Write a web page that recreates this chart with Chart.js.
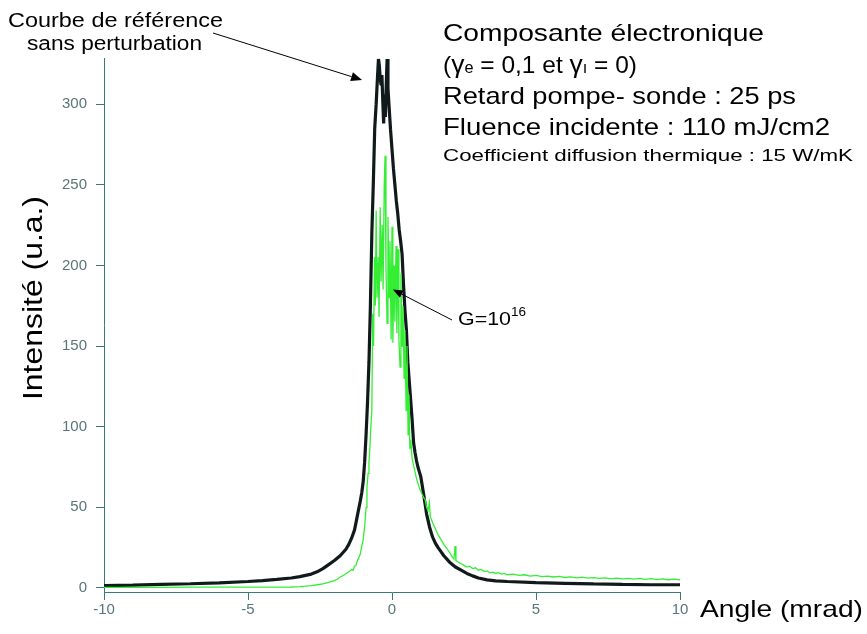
<!DOCTYPE html>
<html>
<head>
<meta charset="utf-8">
<script src="https://cdn.jsdelivr.net/npm/chart.js@4/dist/chart.umd.min.js"></script>
<style>
  html, body { margin: 0; padding: 0; background: #ffffff; }
  #wrap { width: 867px; height: 634px; }
</style>
</head>
<body>
<div id="wrap"><canvas id="c" width="867" height="634"></canvas></div>
<script>
// Reference curve (no perturbation): angle in mrad, intensity in a.u.
const refAngle = [-10, -9, -8, -7, -6, -5, -4.5, -4, -3.5, -3.2, -3, -2.8, -2.6, -2.4, -2.2, -2, -1.8, -1.6, -1.5, -1.4,
  -1.3, -1.2, -1.1, -1.05, -1, -0.95, -0.9, -0.85, -0.8, -0.75, -0.7, -0.65, -0.6, -0.55, -0.5, -0.47, -0.44, -0.41,
  -0.38, -0.35, -0.32, -0.29, -0.26, -0.23, -0.2, -0.17, -0.14, -0.1, -0.05, 0, 0.05, 0.1, 0.15, 0.2, 0.25, 0.3, 0.35,
  0.4, 0.45, 0.5, 0.55, 0.6, 0.65, 0.7, 0.75, 0.8, 0.85, 0.9, 0.95, 1, 1.1, 1.2, 1.3, 1.4, 1.5, 1.6, 1.7, 1.8, 2,
  2.2, 2.4, 2.6, 2.8, 3, 3.3, 3.6, 4, 5, 6, 7, 8, 9, 10];
const refIntensity = [1.5, 1.8, 2.2, 2.6, 3.2, 4, 4.6, 5.3, 6.2, 7, 7.8, 8.6, 10, 12, 14.5, 17, 20, 24, 27, 31,
  36, 45, 54, 59, 66, 78, 95, 115, 140, 175, 220, 250, 285, 300, 318, 328, 324, 316,
  312, 318, 302, 288, 306, 292, 312, 328, 310, 298, 284, 272, 260, 250, 240, 232, 222, 215, 207,
  188, 172, 160, 140, 128, 116, 104, 90, 84, 79, 75, 72, 69, 58, 46, 38, 32, 28, 25, 22.5, 20, 16,
  13, 11, 9, 7.5, 6.2, 5, 4.4, 4, 3.3, 2.9, 2.5, 2.2, 2, 2];

// Perturbed curve, G = 1e16
const pertAngle = [-10, -9, -8, -7, -6, -5, -4, -3.5, -3.2, -3, -2.8, -2.6, -2.4, -2.2, -2, -1.9, -1.8, -1.7, -1.6, -1.5,
  -1.4, -1.35, -1.3, -1.25, -1.2, -1.15, -1.1, -1.05, -1, -0.95, -0.9, -0.87, -0.83, -0.8, -0.77, -0.74, -0.7,
  -0.67, -0.64, -0.61, -0.58, -0.55, -0.52, -0.48, -0.45, -0.41, -0.38, -0.34, -0.31, -0.27, -0.24, -0.21, -0.17,
  -0.14, -0.1, -0.07, -0.03, 0, 0.03, 0.07, 0.1, 0.14, 0.17, 0.21, 0.24, 0.28, 0.31, 0.35, 0.38, 0.42, 0.45, 0.49,
  0.52, 0.56, 0.59, 0.62, 0.65, 0.7, 0.75, 0.8, 0.85, 0.9, 0.97, 1.05, 1.1, 1.15, 1.2, 1.25, 1.3, 1.33, 1.38, 1.42,
  1.5, 1.6, 1.7, 1.8, 1.9, 2, 2.1, 2.15, 2.19, 2.22, 2.3, 2.4, 2.5, 2.6, 2.7, 2.8, 2.9, 3, 3.1, 3.2, 3.3, 3.4, 3.5,
  3.6, 3.7, 3.8, 3.9, 4, 4.2, 4.4, 4.6, 4.8, 5, 5.2, 5.4, 5.6, 5.8, 6, 6.2, 6.4, 6.6, 6.8, 7, 7.2, 7.4, 7.6, 7.8,
  8, 8.2, 8.4, 8.6, 8.8, 9, 9.2, 9.4, 9.6, 9.8, 10];
const pertIntensity = [0.4, 0.4, 0.4, 0.5, 0.5, 0.5, 0.5, 0.6, 0.8, 1.1, 1.5, 2, 2.6, 3.4, 4.6, 5.4, 6.8, 7.6, 8.8, 10,
  11.5, 11, 13.5, 14, 17, 19, 21, 26, 30, 38, 50, 62, 71, 78, 86, 98, 110,
  170, 150, 205, 175, 234, 180, 205, 168, 236, 190, 225, 185, 250, 268, 200, 164,
  230, 180, 215, 154, 224, 152, 200, 165, 212, 158, 210, 154, 137, 195, 150, 175, 130, 160, 110,
  150, 95, 120, 86, 92, 80, 76, 72, 68, 65, 61, 58, 56, 55, 50, 48, 53, 44, 42, 40,
  37, 33, 30, 27, 24.5, 22, 19, 18, 26, 17, 16, 15, 14, 13, 13.5, 12, 12.5, 11, 11.5, 10.2, 10.6, 9.4, 9.8,
  9, 9.5, 8.6, 9, 8.2, 8.6, 7.8, 8.2, 7.4, 7.8, 7, 7.4, 6.8, 7.2, 6.5, 6.9, 6.3, 6.7, 6.1, 6.4, 5.9, 6.3, 5.7, 6.1,
  5.6, 6, 5.5, 5.9, 5.3, 5.8, 5.2, 5.6, 5.1, 5.5, 5];

const angleTicks = [-10, -5, 0, 5, 10];
const intensityTicks = [0, 50, 100, 150, 200, 250, 300];

const zip = (xs, ys) => xs.map((x, i) => ({ x: x, y: ys[i] }));

const TEXT_FONT = '"Liberation Sans", Arial, Helvetica, sans-serif';
const AXIS_COLOR = '#3b7878';
const TICK_TEXT = '#5b7676';

// Draws a row of text runs, stretched horizontally to a given width.
function textRow(ctx, parts, x, y, width) {
  let natural = 0;
  for (const p of parts) {
    ctx.font = p.size + 'px ' + TEXT_FONT;
    p.w = ctx.measureText(p.t).width;
    natural += p.w;
  }
  const s = width ? width / natural : 1;
  ctx.save();
  ctx.translate(x, y);
  ctx.scale(s, 1);
  let cx = 0;
  for (const p of parts) {
    ctx.font = p.size + 'px ' + TEXT_FONT;
    ctx.fillText(p.t, cx, p.dy || 0);
    cx += p.w;
  }
  ctx.restore();
}

function arrow(ctx, x1, y1, x2, y2, len, half) {
  const a = Math.atan2(y2 - y1, x2 - x1);
  const bx = x2 - len * Math.cos(a), by = y2 - len * Math.sin(a);
  ctx.beginPath();
  ctx.moveTo(x1, y1);
  ctx.lineTo(bx, by);
  ctx.stroke();
  ctx.beginPath();
  ctx.moveTo(x2, y2);
  ctx.lineTo(bx + half * Math.sin(a), by - half * Math.cos(a));
  ctx.lineTo(bx - half * Math.sin(a), by + half * Math.cos(a));
  ctx.closePath();
  ctx.fill();
}

const annotations = {
  id: 'annotations',
  afterDraw(chart) {
    const ctx = chart.ctx;
    const xs = chart.scales.x, ys = chart.scales.y;
    ctx.save();
    ctx.fillStyle = '#000';
    ctx.strokeStyle = '#000';
    ctx.lineWidth = 1;
    ctx.textBaseline = 'alphabetic';
    ctx.textAlign = 'left';

    // Reference-curve label and its arrow
    textRow(ctx, [{ t: 'Courbe de référence', size: 20 }], 8, 27, 215);
    textRow(ctx, [{ t: 'sans perturbation', size: 20 }], 27, 50, 175);
    arrow(ctx, 213, 33, xs.getPixelForValue(-1.04), ys.getPixelForValue(315), 11, 4.5);

    // Simulation parameters
    textRow(ctx, [{ t: 'Composante électronique', size: 24 }], 443, 41, 321);
    textRow(ctx, [
      { t: '(', size: 24 }, { t: 'γ', size: 26 }, { t: 'e', size: 16 }, { t: ' = 0,1 et ', size: 24 },
      { t: 'γ', size: 26 }, { t: 'ı', size: 16 }, { t: ' = 0)', size: 24 }
    ], 443, 73, 194);
    textRow(ctx, [{ t: 'Retard pompe- sonde : 25 ps', size: 24 }], 443, 104, 353);
    textRow(ctx, [{ t: 'Fluence incidente : 110 mJ/cm2', size: 24 }], 443, 135, 387);
    textRow(ctx, [{ t: 'Coefficient diffusion thermique : 15 W/mK', size: 17 }], 443, 161, 410);

    // Perturbed-curve label and its arrow
    arrow(ctx, 452, 320, xs.getPixelForValue(0.03), ys.getPixelForValue(185), 10, 4);
    textRow(ctx, [{ t: 'G=10', size: 19 }, { t: '16', size: 12, dy: -9 }], 458, 325, 68);

    // Axis titles
    textRow(ctx, [{ t: 'Angle (mrad)', size: 24 }], 700, 617, 163);
    ctx.save();
    ctx.translate(42, 298);
    ctx.rotate(-Math.PI / 2);
    textRow(ctx, [{ t: 'Intensité (u.a.)', size: 27 }], -102, 0, 204);
    ctx.restore();

    ctx.restore();
  }
};

new Chart(document.getElementById('c'), {
  type: 'line',
  data: {
    datasets: [
      {
        label: 'G=10^16',
        data: zip(pertAngle, pertIntensity),
        borderColor: '#33ee33',
        borderWidth: 1.3,
        pointRadius: 0,
        tension: 0,
        order: 0
      },
      {
        label: 'Courbe de référence',
        data: zip(refAngle, refIntensity),
        borderColor: '#101a1a',
        borderWidth: 3.2,
        pointRadius: 0,
        tension: 0,
        borderJoinStyle: 'bevel',
        order: 1
      }
    ]
  },
  options: {
    responsive: false,
    devicePixelRatio: 1,
    animation: false,
    events: [],
    layout: { padding: { top: 58, right: 187, bottom: 0, left: 0 } },
    plugins: { legend: { display: false }, tooltip: { enabled: false } },
    scales: {
      x: {
        type: 'linear',
        min: -10,
        max: 10,
        afterBuildTicks: (axis) => { axis.ticks = angleTicks.map(v => ({ value: v })); },
        afterFit: (axis) => { axis.height = 42; },
        border: { display: true, color: AXIS_COLOR, width: 1 },
        grid: { drawOnChartArea: false, drawTicks: true, tickLength: 8, color: AXIS_COLOR },
        ticks: {
          color: TICK_TEXT,
          padding: 1,
          maxRotation: 0,
          font: { family: '"Liberation Sans Narrow", "Liberation Sans", Arial, sans-serif', size: 15 },
          callback: (v) => String(v)
        }
      },
      y: {
        type: 'linear',
        min: -2.5,
        max: 328.6,
        afterBuildTicks: (axis) => { axis.ticks = intensityTicks.map(v => ({ value: v })); },
        afterFit: (axis) => { axis.width = 104; },
        border: { display: true, color: AXIS_COLOR, width: 1 },
        grid: { drawOnChartArea: false, drawTicks: true, tickLength: 8, color: AXIS_COLOR },
        ticks: {
          color: TICK_TEXT,
          padding: 9,
          font: { family: '"Liberation Sans Narrow", "Liberation Sans", Arial, sans-serif', size: 15 },
          callback: (v) => String(v)
        }
      }
    }
  },
  plugins: [annotations]
});
</script>
</body>
</html>
